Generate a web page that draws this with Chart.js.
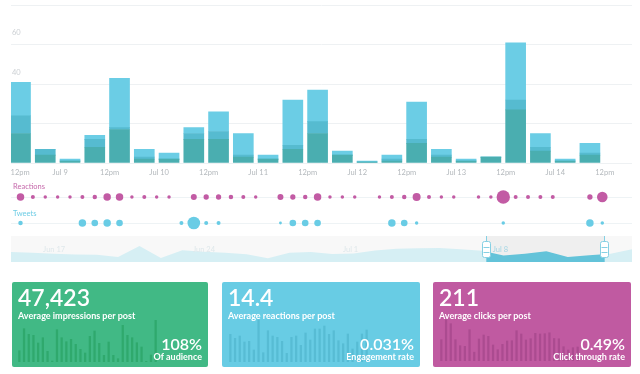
<!DOCTYPE html>
<html>
<head>
<meta charset="utf-8">
<script src="https://cdn.jsdelivr.net/npm/chart.js@4.4.1/dist/chart.umd.min.js"></script>
<style>
  body { margin: 0; background: #fff; width: 640px; height: 374px; overflow: hidden; position: relative; font-family: Lato, "Open Sans", sans-serif; }
  canvas { position: absolute; display: block; }
  .rowlbl { position: absolute; left: 13px; font-size: 7.5px; line-height: 8px; }
  .card { position: absolute; top: 282px; height: 85px; border-radius: 2px; color: #fff; }
  .big { position: absolute; left: 6px; top: 4px; font-size: 23px; line-height: 23px; font-weight: 600; }
  .sub { position: absolute; left: 6px; top: 28.5px; font-size: 9px; line-height: 9px; font-weight: 700; white-space: nowrap; }
  .pct { position: absolute; right: 6px; top: 53.5px; font-size: 16px; line-height: 16px; font-weight: 600; }
  .note { position: absolute; right: 6px; top: 70px; font-size: 9px; line-height: 9px; font-weight: 700; white-space: nowrap; }
</style>
</head>
<body>
<canvas id="main" width="640" height="183" style="left:0;top:0"></canvas>
<canvas id="reactions" width="640" height="28" style="left:0;top:183px"></canvas>
<canvas id="tweets" width="640" height="28" style="left:0;top:209px"></canvas>
<canvas id="nav" width="640" height="26" style="left:0;top:236px"></canvas>
<div class="rowlbl" style="top:183px;color:#c66aab">Reactions</div>
<div class="rowlbl" style="top:210px;color:#6fcde5">Tweets</div>

<div class="card" style="left:12px;width:196px;background:#41b985">
  <canvas id="sp1" width="141" height="46" style="left:5px;top:34px"></canvas>
  <div class="big">47,423</div>
  <div class="sub">Average impressions per post</div>
  <div class="pct">108%</div>
  <div class="note">Of audience</div>
</div>
<div class="card" style="left:222px;width:198px;background:#68cce4">
  <canvas id="sp2" width="141" height="46" style="left:6px;top:34px"></canvas>
  <div class="big">14.4</div>
  <div class="sub">Average reactions per post</div>
  <div class="pct">0.031%</div>
  <div class="note">Engagement rate</div>
</div>
<div class="card" style="left:433px;width:198px;background:#c05aa1">
  <canvas id="sp3" width="141" height="46" style="left:6px;top:33px"></canvas>
  <div class="big">211</div>
  <div class="sub">Average clicks per post</div>
  <div class="pct">0.49%</div>
  <div class="note">Click through rate</div>
</div>

<script>
// stacked bars, one per 6 hours
const layerDark  = [15, 4, 1, 8, 17, 2, 2, 12, 12, 3, 2, 7, 15, 4, 0.5, 1, 10, 3, 1, 3, 27, 6, 1, 4];
const layerMid   = [ 9, 3, 0, 4,  1, 1, 0,  3,  4, 1, 0, 2,  6, 0, 0,   1,  2, 1, 0, 0,  5, 2, 0, 1];
const layerLight = [17, 0, 1, 2, 25, 4, 3,  3, 10, 11, 2, 23, 16, 2, 0.5, 2, 19, 3, 1, 0, 29, 7, 1, 5];
const tickLabels = ['12pm', 'Jul 9', '12pm', 'Jul 10', '12pm', 'Jul 11', '12pm', 'Jul 12', '12pm', 'Jul 13', '12pm', 'Jul 14', '12pm'];
const yLabels = [0, 20, 40, 60];

// dots, one slot per 3 hours
const reactions = [14, 4, 3, 3, 3, 4, 5, 14, 14, 3, 4, 3, 3, null, 9, 7, 7, 5, 4, 3, null, 9, 7, 5,
                   14, 3, 3, 3, null, 3, 4, 5, 16, 4, 3, 3, null, 3, 3, 45, 4, 4, 4, 4, null, null, 7, 28];
const tweets = [5, null, null, null, null, 14, 11, 14, 11, null, null, null, null, 4, 40, 4, 4, null, null, null, null, 2, 11, 11,
                11, null, null, null, null, null, 14, 11, 3, null, null, null, null, null, null, 3, null, null, null, null, null, null, 14, 3];

// overview strip, daily
const navDaily = [10, 9.3, 8.3, 7.5, 7.3, 5, 16, 4, 11.7, 10.3, 9.2, 7.7, 3.7, 9.3, 10, 8, 8.5, 11.5, 13.3, 13.8, 14, 12.8, 11.3, 6.5, 8.3, 10.7, 5, 6.7, 8.2, 12.7];
const navLabels = ['Jun 17', 'Jun 24', 'Jul 1', 'Jul 8'];
const navLabelDays = [1.5, 8.5, 15.5, 22.5];
const navRange = [22.2, 27.7];

// card sparklines
const impressionBars = [11.3, 33.3, 27.7, 26.7, 19, 24.3, 10.7, 1, 32.3, 24.3, 20.3, 22.7, 17.7, 12.7, 9, 25.7, 31, 18.7, 6.7, 20, 6.7, 3.3, 36.7, 26.7, 24.3, 19.3, 15, 0.7, 7, 41.7];
const reactionBars = [27.7, 23.7, 26, 20, 20.7, 12, 42, 9.3, 31.3, 26, 24.7, 20.7, 8.7, 24.7, 26, 16.7, 29, 22, 33, 33, 36, 27.7, 31.3, 21.3, 18.3, 28, 13, 20, 28, 32];
const clickBars = [21.3, 41.2, 37.3, 21.3, 15.3, 14.7, 31.3, 8.8, 22, 26, 24.7, 16, 11.3, 16.7, 20, 20.3, 30.3, 27, 21, 22.3, 27.7, 27, 27.3, 28.2, 22.5, 22.2, 14.3, 11, 13.3, 14];

Chart.defaults.font.family = 'Lato, "Open Sans", sans-serif';
Chart.defaults.animation = false;
Chart.defaults.responsive = false;
Chart.defaults.plugins.legend.display = false;
Chart.defaults.plugins.tooltip.enabled = false;

const X_MIN = -0.384, X_MAX = 24.70;
const pts = arr => arr.map((v, i) => ({x: i, y: v}));

new Chart(document.getElementById('main'), {
  type: 'bar',
  data: {
    datasets: [
      {label: 'dark', data: pts(layerDark), backgroundColor: '#4aaeb0', barThickness: 20},
      {label: 'mid', data: pts(layerMid), backgroundColor: '#56bbd0', barThickness: 20},
      {label: 'light', data: pts(layerLight), backgroundColor: '#6bcde5', barThickness: 20}
    ]
  },
  options: {
    layout: {padding: {left: 11, right: 8, top: 5, bottom: 0}},
    scales: {
      x: {
        type: 'linear', stacked: true, min: X_MIN, max: X_MAX, offset: false,
        grid: {display: false, drawTicks: false, offset: false}, border: {display: false},
        // trailing empty tick at the right edge so 'inner' only pins the first label
        afterBuildTicks: s => { s.ticks = tickLabels.map((t, i) => ({value: -0.4 + 2 * i})).concat([{value: X_MAX}]); },
        ticks: {autoSkip: false, maxRotation: 0, align: 'inner', padding: 5.5, color: '#b3b8bc', font: {size: 7.5},
                callback: (v, i) => tickLabels[i] || ''}
      },
      y: {
        stacked: true, min: 0, max: 80,
        ticks: {display: false, stepSize: 20},
        grid: {color: '#eef1f3', drawTicks: false}, border: {display: false},
        afterFit: s => { s.width = 0; }
      },
      y2: {
        position: 'left', min: 0, max: 80, z: 1,
        grid: {display: false}, border: {display: false},
        ticks: {stepSize: 20, mirror: true, padding: 1, labelOffset: -12, color: 'rgba(195,200,205,0.85)', font: {size: 7.5},
                callback: v => yLabels.includes(v) ? v : ''},
        afterFit: s => { s.width = 0; }
      }
    }
  }
});

function dotRow(id, counts, color) {
  new Chart(document.getElementById(id), {
    type: 'bubble',
    data: {
      datasets: [{
        data: counts.map((v, i) => v == null ? null : {x: i / 2, y: 0, r: Math.sqrt(v)}).filter(Boolean),
        backgroundColor: color, borderWidth: 0, clip: false
      }]
    },
    options: {
      layout: {padding: {left: 11, right: 8}},
      scales: {
        x: {type: 'linear', min: X_MIN, max: X_MAX, offset: false, display: false},
        y: {
          min: -1, max: 1, ticks: {display: false, stepSize: 1}, border: {display: false},
          grid: {drawTicks: false, color: c => c.tick.value === 0 ? '#eef3f5' : 'rgba(0,0,0,0)'},
          afterFit: s => { s.width = 0; }
        }
      }
    }
  });
}
dotRow('reactions', reactions, '#c25ba4');
dotRow('tweets', tweets, '#69cce5');

const navDecor = {
  id: 'navDecor',
  beforeDraw(chart) {
    const {ctx, chartArea: a, scales: {x}} = chart;
    const x0 = x.getPixelForValue(navRange[0]), x1 = x.getPixelForValue(navRange[1]);
    ctx.save();
    ctx.fillStyle = '#f8f8f8';
    ctx.fillRect(a.left, a.top, a.width, a.height);
    ctx.fillStyle = '#efefef';
    ctx.fillRect(x0, a.top, x1 - x0, a.height);
    ctx.restore();
  },
  afterDatasetsDraw(chart) {
    const {ctx, chartArea: a, scales: {x}} = chart;
    ctx.save();
    ctx.font = '7.5px Lato, sans-serif';
    ctx.textAlign = 'left';
    ctx.textBaseline = 'middle';
    navLabels.forEach((t, i) => {
      const d = navLabelDays[i];
      const inSel = d >= navRange[0] && d <= navRange[1];
      ctx.fillStyle = inSel ? '#a3d6e4' : '#dfe8eb';
      ctx.fillText(t, x.getPixelForValue(d), a.top + 14);
    });
    ctx.restore();
  },
  afterDraw(chart) {
    const {ctx, chartArea: a, scales: {x}} = chart;
    ctx.save();
    navRange.forEach(d => {
      const px = Math.round(x.getPixelForValue(d)) + 0.5;
      ctx.strokeStyle = '#86d0e3';
      ctx.lineWidth = 1;
      ctx.beginPath(); ctx.moveTo(px, a.top); ctx.lineTo(px, a.bottom); ctx.stroke();
      ctx.beginPath();
      ctx.roundRect(px - 4, a.top + 5.5, 8, 16, 2);
      ctx.fillStyle = '#fff'; ctx.fill(); ctx.stroke();
      ctx.beginPath();
      ctx.moveTo(px - 3, a.top + 11.5); ctx.lineTo(px + 3, a.top + 11.5);
      ctx.moveTo(px - 3, a.top + 16.5); ctx.lineTo(px + 3, a.top + 16.5);
      ctx.stroke();
    });
    ctx.restore();
  }
};

new Chart(document.getElementById('nav'), {
  type: 'line',
  data: {
    datasets: [{
      data: pts(navDaily),
      fill: 'origin', borderWidth: 0, pointRadius: 0, tension: 0,
      backgroundColor: c => {
        const chart = c.chart;
        if (!chart.chartArea) return '#d6eff4';
        const x = chart.scales.x;
        const s0 = x.getPixelForValue(navRange[0]) / chart.width;
        const s1 = x.getPixelForValue(navRange[1]) / chart.width;
        const g = chart.ctx.createLinearGradient(0, 0, chart.width, 0);
        g.addColorStop(0, '#d6eff4'); g.addColorStop(s0, '#d6eff4');
        g.addColorStop(s0, '#63c3d9'); g.addColorStop(s1, '#63c3d9');
        g.addColorStop(s1, '#d6eff4'); g.addColorStop(1, '#d6eff4');
        return g;
      }
    }]
  },
  options: {
    layout: {padding: {left: 11, right: 8}},
    scales: {
      x: {type: 'linear', min: 0, max: navDaily.length - 1, display: false},
      y: {min: 0, max: 26, display: false}
    }
  },
  plugins: [navDecor]
});

function spark(id, values, color) {
  new Chart(document.getElementById(id), {
    type: 'bar',
    data: {labels: values.map((v, i) => i), datasets: [{data: values, backgroundColor: color, barThickness: 1.6}]},
    options: {layout: {padding: 0}, scales: {x: {display: false}, y: {display: false, min: 0, max: 46}}}
  });
}
spark('sp1', impressionBars, '#2fa96d');
spark('sp2', reactionBars, '#57bcd4');
spark('sp3', clickBars, '#ab4b90');
</script>
</body>
</html>
